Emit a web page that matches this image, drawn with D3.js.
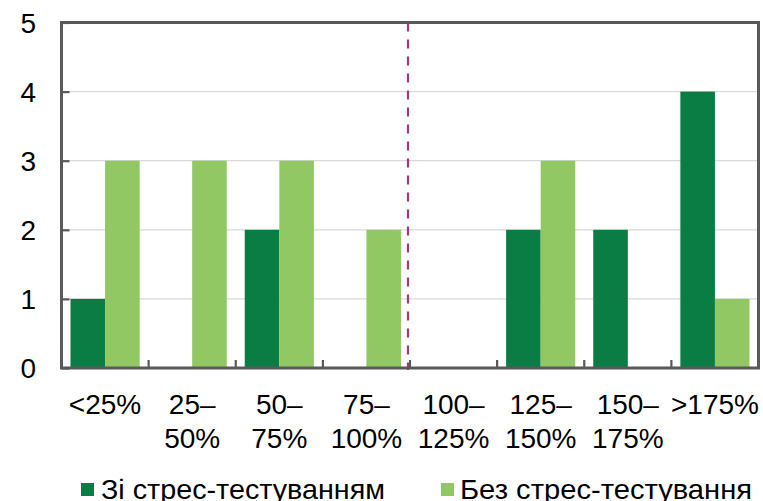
<!DOCTYPE html>
<html>
<head>
<meta charset="utf-8">
<script src="https://cdn.jsdelivr.net/npm/d3@7"></script>
<style>
  html, body { margin: 0; padding: 0; background: #fff; }
  svg { display: block; font-family: "Liberation Sans", Arial, sans-serif; }
</style>
</head>
<body>
<svg id="chart" width="763" height="501"></svg>
<script>
const categories = ["<25%", "25–50%", "50–75%", "75–100%", "100–125%", "125–150%", "150–175%", ">175%"];
const categoryLabels = [["<25%"], ["25–", "50%"], ["50–", "75%"], ["75–", "100%"], ["100–", "125%"], ["125–", "150%"], ["150–", "175%"], [">175%"]];
const seriesNames = ["Зі стрес-тестуванням", "Без стрес-тестування"];
const withStress = [1, 0, 2, 0, 0, 2, 2, 4];
const withoutStress = [3, 3, 3, 2, 0, 3, 0, 1];
const yTicks = [0, 1, 2, 3, 4, 5];
const dividerCategory = "100–125%";

const colors = ["#0a7d45", "#92c863"];
const axisColor = "#595959";
const gridColor = "#d9d9d9";

const svg = d3.select("#chart");
const plotLeft = 61.5, plotRight = 758.5, plotTop = 22.5, plotBottom = 368;

const x0 = d3.scaleBand().domain(categories).range([plotLeft, plotRight]).padding(0);
const x1 = d3.scaleBand().domain(seriesNames).range([0, x0.bandwidth()]).paddingInner(0).paddingOuter(0.26);
const y = d3.scaleLinear().domain([0, 5]).range([plotBottom, plotTop]);

// gridlines
svg.append("g").selectAll("line").data(yTicks.filter(d => d > 0 && d < 5)).join("line")
  .attr("x1", plotLeft).attr("x2", plotRight)
  .attr("y1", d => y(d)).attr("y2", d => y(d))
  .attr("stroke", gridColor).attr("stroke-width", 1.2);

// bars
const seriesData = [withStress, withoutStress];
const barData = [];
categories.forEach((c, i) => {
  seriesNames.forEach((s, j) => barData.push({ c, s, v: seriesData[j][i], j }));
});
svg.append("g").selectAll("rect").data(barData.filter(d => d.v > 0)).join("rect")
  .attr("x", d => x0(d.c) + x1(d.s))
  .attr("width", x1.bandwidth())
  .attr("y", d => y(d.v))
  .attr("height", d => y(0) - y(d.v))
  .attr("fill", d => colors[d.j]);

// dashed divider
svg.append("line")
  .attr("x1", x0(dividerCategory) - 2).attr("x2", x0(dividerCategory) - 2)
  .attr("y1", plotTop).attr("y2", plotBottom + 2)
  .attr("stroke", "#a8367f").attr("stroke-width", 2.2)
  .attr("stroke-dasharray", "9,8");

// frame
svg.append("rect")
  .attr("x", plotLeft).attr("y", plotTop)
  .attr("width", plotRight - plotLeft).attr("height", plotBottom - plotTop)
  .attr("fill", "none").attr("stroke", axisColor).attr("stroke-width", 3);

// y axis ticks (inward)
const yAxis = d3.axisRight(y).tickValues(yTicks).tickSize(8).tickFormat("");
const yg = svg.append("g").attr("transform", `translate(${plotLeft},0)`).call(yAxis);
yg.select(".domain").remove();
yg.selectAll("line").attr("stroke", axisColor).attr("stroke-width", 2.2);

// y labels
svg.append("g").selectAll("text").data(yTicks).join("text")
  .attr("x", 36).attr("y", d => y(d)).attr("dy", "0.36em")
  .attr("text-anchor", "end").attr("font-size", 28).attr("fill", "#000")
  .text(d => d);

// x ticks at category boundaries (inward)
const boundaries = categories.slice(1).map(c => x0(c));
svg.append("g").selectAll("line").data(boundaries).join("line")
  .attr("x1", d => d).attr("x2", d => d)
  .attr("y1", plotBottom).attr("y2", plotBottom - 8)
  .attr("stroke", axisColor).attr("stroke-width", 2.2);

// x labels
const xl = svg.append("g").selectAll("text").data(categories).join("text")
  .attr("text-anchor", "middle").attr("font-size", 28).attr("fill", "#000");
xl.each(function(c, i) {
  const t = d3.select(this);
  categoryLabels[i].forEach((line, k) => {
    t.append("tspan").attr("x", x0(c) + x0.bandwidth() / 2).attr("y", 414 + k * 34).text(line);
  });
});

// legend
const legendItems = [
  { name: seriesNames[0], color: colors[0], sx: 81, tx: 101, w: 284 },
  { name: seriesNames[1], color: colors[1], sx: 441, tx: 460, w: 292 }
];
const lg = svg.append("g");
legendItems.forEach(d => {
  lg.append("rect").attr("x", d.sx).attr("y", 483).attr("width", 13).attr("height", 13).attr("fill", d.color);
  lg.append("text").attr("x", d.tx).attr("y", 499).attr("font-size", 28).attr("fill", "#000")
    .attr("textLength", d.w).attr("lengthAdjust", "spacingAndGlyphs").text(d.name);
});
</script>
</body>
</html>
